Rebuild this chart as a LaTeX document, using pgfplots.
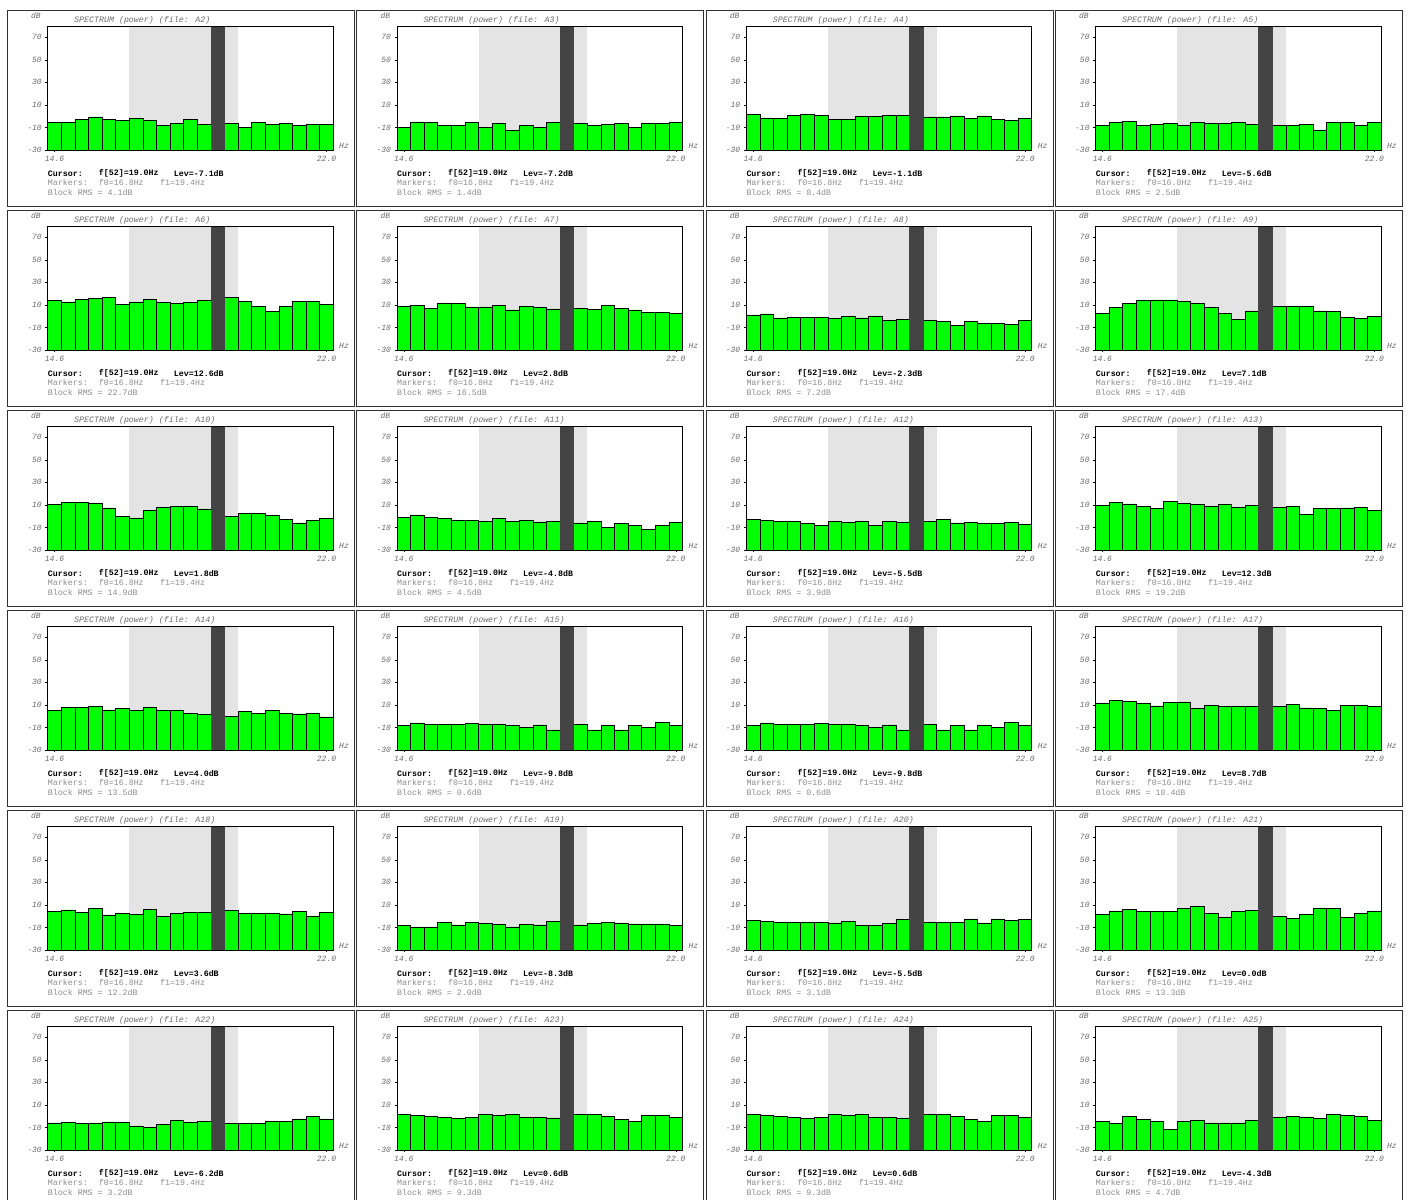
\documentclass[border=0pt]{standalone}
\usepackage{pgfplots}
\pgfplotsset{compat=1.18}
\usepackage{pgfplotstable}
\usepackage{fontspec}
\setmainfont{Liberation Mono}
\setmonofont{Liberation Mono}

\definecolor{specgreen}{HTML}{00FF00}
\definecolor{markgray}{HTML}{E4E4E4}
\definecolor{cursorgray}{HTML}{444444}
\definecolor{tickgray}{HTML}{6A6A6A}
\definecolor{infogray}{HTML}{8C8C8C}
\definecolor{framegray}{HTML}{303030}

% spectrum levels in dB, one column per file, 21 bins from 14.6 Hz to 22.0 Hz
\pgfplotstableread{
f     A2   A3    A4   A5    A6   A7   A8   A9   A10  A11   A12  A13  A14  A15   A16   A17  A18  A19  A20  A21  A22   A23  A24  A25
14.60 -5.7 -9.9  1.7  -8.4  14.1 8.5  1.1  2.8  10.2 -1.0  -2.8 9.9  5.2  -8.4  -8.4  11.7 4.0  -8.1 -4.0 1.7  -6.0  1.7  1.7  -4.9
14.97 -5.7 -5.1  -1.6 -5.7  12.6 9.6  2.0  7.9  12.0 1.1   -3.4 12.0 7.9  -6.0  -6.0  13.8 5.5  -9.6 -4.6 4.6  -5.7  0.5  0.5  -6.3
15.34 -2.8 -5.7  -1.9 -4.9  15.0 7.0  -1.6 11.1 12.3 -1.0  -4.3 10.8 7.6  -7.2  -7.2  12.9 3.4  -9.6 -5.4 6.1  -6.6  -0.1 -0.1 -0.4
15.71 -0.7 -8.4  0.5  -8.4  15.9 11.7 -1.0 13.8 11.7 -1.9  -4.3 8.8  8.8  -7.2  -7.2  11.7 7.0  -5.7 -5.4 4.3  -6.0  -1.3 -1.3 -2.8
16.08 -2.8 -8.4  1.7  -7.5  16.4 11.1 -1.0 14.4 7.3  -3.4  -6.6 6.7  5.5  -7.2  -7.2  9.1  1.1  -7.8 -5.4 4.3  -5.1  -2.2 -2.2 -4.9
16.45 -4.0 -5.7  0.8  -6.3  10.5 8.2  -1.3 14.4 -0.1 -3.7  -8.1 12.9 7.0  -6.3  -6.3  12.0 2.5  -5.7 -5.4 4.3  -5.4  -1.3 -1.3 -12.0
16.82 -1.9 -9.9  -2.8 -8.4  12.6 8.2  -1.9 13.2 -1.6 -4.9  -4.3 11.4 5.2  -7.2  -7.2  12.6 1.4  -6.3 -6.0 6.7  -8.7  1.7  1.7  -4.9
17.19 -4.0 -6.3  -2.8 -5.7  14.7 9.6  -0.1 11.1 4.9  -2.2  -5.4 10.5 7.9  -7.2  -7.2  7.0  5.8  -7.2 -4.9 8.5  -10.2 0.5  0.5  -3.4
17.56 -8.4 -12.5 -0.1 -6.3  12.3 5.5  -1.6 7.9  7.6  -4.3  -4.9 8.8  4.9  -8.4  -8.4  9.3  -0.1 -9.6 -8.1 2.2  -7.2  1.7  1.7  -6.0
17.93 -6.3 -8.4  -0.1 -6.3  11.1 8.5  0.2  2.5  8.5  -4.0  -8.1 10.2 4.9  -9.9  -9.9  8.8  2.8  -7.2 -8.1 -1.3 -3.4  -1.3 -1.3 -6.0
18.30 -2.8 -9.9  0.5  -5.7  12.3 7.9  -4.0 -2.8 8.5  -5.1  -4.9 7.9  2.5  -7.8  -7.8  8.5  3.1  -7.8 -6.6 4.3  -5.4  -1.3 -1.3 -6.0
18.67 -7.2 -5.7  0.8  -7.2  13.8 6.4  -2.8 4.6  6.4  -4.3  -5.1 9.9  1.7  -12.2 -12.2 8.8  3.4  -4.6 -3.1 5.2  -4.3  -1.6 -1.6 -4.0
19.04 -7.1 -7.2  -1.1 -5.6  12.6 2.8  -2.3 7.1  1.8  -4.8  -5.5 12.3 4.0  -9.8  -9.8  8.7  3.6  -8.3 -5.5 0.0  -6.2  0.6  0.6  -4.3
19.41 -6.3 -6.3  -0.7 -8.4  16.7 7.0  -3.4 8.5  -0.4 -6.0  -4.9 7.6  -0.1 -7.5  -7.5  8.8  4.9  -7.8 -5.7 -0.1 -6.6  1.4  1.4  -1.3
19.78 -9.9 -8.4  -0.7 -8.4  12.9 5.8  -4.9 8.8  2.5  -4.3  -3.1 8.5  4.0  -12.2 -12.2 10.2 2.8  -6.6 -5.7 -2.2 -6.6  1.7  1.7  -0.1
20.15 -5.7 -7.2  0.2  -7.2  8.5  9.6  -8.1 8.5  2.2  -9.9  -6.0 1.7  2.2  -8.4  -8.4  7.3  2.8  -5.4 -5.7 1.4  -6.6  -0.1 -0.1 -0.7
20.52 -7.2 -6.3  -2.2 -12.2 4.3  7.0  -4.9 4.6  0.8  -6.3  -5.7 7.0  4.9  -12.2 -12.2 7.0  2.8  -6.0 -2.5 7.3  -4.6  -3.1 -3.1 -1.9
20.89 -6.3 -9.9  0.2  -5.7  8.5  5.5  -6.3 4.0  -2.8 -8.4  -6.3 6.7  2.2  -8.4  -8.4  5.2  2.0  -6.9 -6.0 6.7  -4.6  -4.6 -4.6 1.7
21.26 -8.4 -6.3  -2.8 -5.7  13.2 3.4  -6.3 -1.0 -6.0 -12.0 -6.3 7.3  2.0  -9.9  -9.9  9.9  4.3  -6.9 -2.5 -1.0 -2.5  0.8  0.8  0.5
21.63 -7.2 -6.3  -3.7 -8.4  12.9 3.4  -7.2 -1.9 -3.4 -8.1  -5.7 7.6  2.2  -5.7  -5.7  9.6  0.2  -6.9 -3.7 2.8  0.0   0.5  0.5  -0.1
22.00 -7.2 -5.7  -2.2 -5.7  10.5 2.5  -3.7 -0.1 -1.9 -5.7  -7.5 5.2  -0.7 -8.4  -8.4  8.8  3.7  -8.1 -2.8 4.6  -2.5  -1.0 -1.0 -3.7
}\spec

% y axis is drawn from 0 to 110, i.e. dB + 30, so the bars stand on -30 dB
\pgfplotsset{panel/.style={
  scale only axis, width=285.6pt, height=124pt, anchor=north west,
  xmin=14.415, xmax=22.185, ymin=0, ymax=110,
  xtick={14.6,22.0}, xticklabels={14.6,22.0},
  ytick={0,20,40,60,80,100}, yticklabels={-30,-10,10,30,50,70},
  tick pos=left, tick align=outside, major tick length=2.5pt,
  axis line style={black, line width=0.9pt},
  tick style={black, line width=0.6pt},
  tick label style={font=\fontsize{8}{9}\selectfont\itshape, text=tickgray},
  axis on top,
}}

\newcommand\info{\fontsize{8.3}{9}\selectfont}

% #1 column, #2 row, #3 file, #4 cursor level, #5 block RMS
\newcommand\panel[5]{%
  \pgfmathsetmacro\pX{47.7+349.3*#1}%
  \pgfmathsetmacro\pY{1174-200*#2}%
  \draw[framegray, line width=1.2pt] (\pX pt-40.2pt,\pY pt+15.7pt) rectangle (\pX pt+306.8pt,\pY pt-180.8pt);
  \begin{axis}[panel, at={(\pX pt,\pY pt)}]
    \addplot[draw=none, fill=markgray] coordinates {(16.635,0) (16.635,110) (19.595,110) (19.595,0)} -- cycle;
    \addplot[ybar, bar shift=0pt, bar width=0.37, fill=specgreen, draw=black, line width=0.7pt]
      table[x=f, y expr=\thisrow{#3}+30] {\spec};
    \addplot[ybar, bar shift=0pt, bar width=0.37, fill=cursorgray, draw=cursorgray, line width=0.8pt] coordinates {(19.04,110)};
  \end{axis}
  \node[font=\fontsize{8}{9}\selectfont\itshape, text=tickgray, inner sep=0pt] at (\pX pt-11.7pt,\pY pt+10.3pt) {dB};
  \node[font=\info\itshape, text=tickgray, anchor=west, inner sep=0pt] at (\pX pt+26.3pt,\pY pt+6pt) {SPECTRUM (power) (file: #3)};
  \node[font=\fontsize{8}{9}\selectfont\itshape, text=tickgray, inner sep=0pt] at (\pX pt+296.3pt,\pY pt-120pt) {Hz};
  \node[font=\info\bfseries, anchor=west, inner sep=0pt] at (\pX pt,\pY pt-147.7pt) {Cursor:};
  \node[font=\info\bfseries, anchor=west, inner sep=0pt] at (\pX pt+51pt,\pY pt-147.7pt) {f[52]=19.0Hz};
  \node[font=\info\bfseries, anchor=west, inner sep=0pt] at (\pX pt+126pt,\pY pt-147.7pt) {Lev=#4dB};
  \node[font=\info, text=infogray, anchor=west, inner sep=0pt] at (\pX pt,\pY pt-156.7pt) {Markers:};
  \node[font=\info, text=infogray, anchor=west, inner sep=0pt] at (\pX pt+51pt,\pY pt-156.7pt) {f0=16.8Hz};
  \node[font=\info, text=infogray, anchor=west, inner sep=0pt] at (\pX pt+112.3pt,\pY pt-156.7pt) {f1=19.4Hz};
  \node[font=\info, text=infogray, anchor=west, inner sep=0pt] at (\pX pt,\pY pt-166.7pt) {Block RMS = #5dB};
}

\begin{document}
\begin{tikzpicture}
\useasboundingbox (0pt,0pt) rectangle (1409pt,1200pt);
\clip (0pt,0pt) rectangle (1409pt,1200pt);
\panel{0}{0}{A2}{-7.1}{4.1}
\panel{1}{0}{A3}{-7.2}{1.4}
\panel{2}{0}{A4}{-1.1}{8.4}
\panel{3}{0}{A5}{-5.6}{2.5}
\panel{0}{1}{A6}{12.6}{22.7}
\panel{1}{1}{A7}{2.8}{16.5}
\panel{2}{1}{A8}{-2.3}{7.2}
\panel{3}{1}{A9}{7.1}{17.4}
\panel{0}{2}{A10}{1.8}{14.9}
\panel{1}{2}{A11}{-4.8}{4.5}
\panel{2}{2}{A12}{-5.5}{3.9}
\panel{3}{2}{A13}{12.3}{19.2}
\panel{0}{3}{A14}{4.0}{13.5}
\panel{1}{3}{A15}{-9.8}{0.6}
\panel{2}{3}{A16}{-9.8}{0.6}
\panel{3}{3}{A17}{8.7}{18.4}
\panel{0}{4}{A18}{3.6}{12.2}
\panel{1}{4}{A19}{-8.3}{2.0}
\panel{2}{4}{A20}{-5.5}{3.1}
\panel{3}{4}{A21}{0.0}{13.3}
\panel{0}{5}{A22}{-6.2}{3.2}
\panel{1}{5}{A23}{0.6}{9.3}
\panel{2}{5}{A24}{0.6}{9.3}
\panel{3}{5}{A25}{-4.3}{4.7}
\end{tikzpicture}
\end{document}
